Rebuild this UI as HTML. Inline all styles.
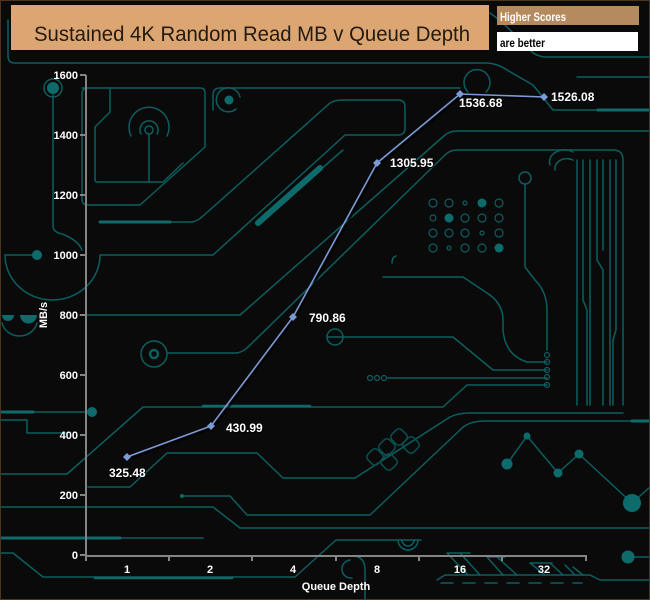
<!DOCTYPE html>
<html><head><meta charset="utf-8"><style>
html,body{margin:0;padding:0;background:#0a0a0a;}
svg{display:block;}
</style></head><body>
<svg width="650" height="600" viewBox="0 0 650 600" xmlns="http://www.w3.org/2000/svg">
<rect x="0" y="0" width="650" height="600" fill="#0a0a0a"/>
<g fill="none" stroke="#0d5e60" stroke-width="1.5" stroke-linecap="round" stroke-linejoin="round">
  <path d="M8,20 V56 Q8,63 15,63 H485 Q497,63 507,70 L533,85 Q545,100 553,110 H650"/>
  <path d="M490,13 Q500,20 510,30 L530,50 Q535,56 545,57 H650"/>
  <path d="M577,77 H650"/>
  <path d="M598,110 H650" stroke-width="3" stroke="#0f6a6b"/>
  <path d="M53,95 V226 Q53,232 62,234 Q78,240 82,250"/>
  <path d="M5,255 A47.5,45 0 0 0 100,255 H213 L345,135 H398 Q405,135 405,128 V107 Q405,100 398,100 H342 Q335,100 330,103 L203,216 Q197,222 190,222 H100"/>
  <path d="M100,222 H170" stroke-width="3" stroke="#0f6a6b"/>
  <path d="M5,255 H32"/>
  <path d="M82,88 H200 Q205,88 205,93 V147 L140,205 H88 Q82,205 82,199 V94 Q82,88 88,88"/>
  <path d="M110,88 V112 L95,127 V180 Q95,182 98,182 H163 L183,163"/>
  <circle cx="149" cy="130" r="4"/>
  <path d="M141,134 A9,9 0 1 1 157,134"/>
  <path d="M131,136 A20,20 0 1 1 167,136"/>
  <path d="M149,135 V182"/>
  <path d="M236,109 A12,12 0 1 1 240,97"/>
  <path d="M213,110 V95 Q213,88 220,88 H460"/>
  <path d="M468,92 A13,13 0 1 1 486,92"/>
  <path d="M80,315 H240 L445,135 Q450,131 457,131 H650"/>
  <path d="M168,353 H235 Q242,353 248,347 L445,155 Q450,150 457,150 H613 Q623,150 623,160 V405"/>
  <path d="M577,160 V405 M583,160 V300 L587,310 V405 M590,160 V405 M597,160 V260 L603,270 V405 M603,160 V250 M610,160 V405 M616,160 V330 L613,340 V405"/>
  <path d="M550,165 A15,12 0 0 1 573,152 M555,170 A12,10 0 0 1 573,160"/>
  <path d="M0,412 H86" />
  <path d="M0,412 H33" stroke-width="3" stroke="#0f6a6b"/>
  <path d="M0,420 H27 V433 H67"/>
  <path d="M0,474 H67 L143,407 H443 L467,385 H547"/>
  <path d="M203,406 H310" stroke-width="2.5" stroke="#0f6a6b"/>
  <path d="M88,487 H130 L167,453 H257 L283,478 H355 L450,417 Q458,413 470,413 H623"/>
  <path d="M0,507 H213 L240,528 H650"/>
  <path d="M0,538 H203"/>
  <path d="M0,538 H120" stroke-width="3" stroke="#0f6a6b"/>
  <path d="M182,496 H230 L247,515 H370 L460,430 Q468,421 485,421 H650"/>
  <path d="M632,421 H650" stroke-width="3" stroke="#0f6a6b"/>
  <path d="M0,553 H13 L43,577 H232 H295 L336,540 H421"/>
  <path d="M95,578 H232" stroke-width="2.5" stroke="#0f6a6b"/>
  <path d="M398,540 A10,10 0 0 0 418,540 M402,540 A6,6 0 0 0 414,540"/>
  <path d="M352,556 Q365,556 365,570 V600"/>
  <path d="M350,560 A8,8 0 1 0 352,578"/>
  <path d="M437,580 L445,575 H590 L600,580 H650"/>
  <path d="M441,583 H582" stroke-dasharray="12,10"/>
  <path d="M447,553 L468,575 M460,553 L480,575 M447,553 H470 M487,557 L503,575 M497,557 L517,575 M487,557 H505 M530,563 L545,575 M550,563 L563,575 M530,563 H552 M565,565 L575,575 M573,567 L583,575"/>
  <path d="M327,337 H453 L493,370 H547"/>
  <path d="M388,378 H547"/>
  <path d="M383,277 H463 L490,295 Q503,305 503,320 V330 Q505,355 527,362 H547"/>
  <path d="M525,184 V267 L535,280 Q547,292 547,310 V350"/>
  <circle cx="525" cy="178" r="6"/>
  <path d="M320,170 L343,150 M392,263 Q392,257 396,256"/>
  <path d="M507,464 L527,436 L558,473 L579,454 L632,503 L650,487"/>
  <path d="M628,557 H650"/>
  <path d="M2,323 A18,17 0 0 0 37,323"/>
  <circle cx="154" cy="354" r="4" stroke-width="2.5"/>
  <circle cx="154" cy="354" r="13"/>
  <circle cx="335" cy="337" r="8"/>
  <g stroke="#0b4f50">
    <rect x="368" y="450" width="14" height="14" rx="4" transform="rotate(45 375 457)"/>
    <rect x="380" y="440" width="14" height="14" rx="4" transform="rotate(45 387 447)"/>
    <rect x="392" y="430" width="14" height="14" rx="4" transform="rotate(45 399 437)"/>
    <rect x="382" y="455" width="14" height="14" rx="4" transform="rotate(45 389 462)"/>
    <rect x="404" y="438" width="14" height="14" rx="4" transform="rotate(45 411 445)"/>
  </g>
  <g stroke-width="1.2">
    <circle cx="433" cy="203" r="4"/><circle cx="449" cy="203" r="4"/><circle cx="465" cy="203" r="2"/><circle cx="499" cy="203" r="4"/>
    <circle cx="433" cy="218" r="3"/><circle cx="465" cy="218" r="4"/><circle cx="482" cy="218" r="4"/><circle cx="499" cy="218" r="4"/>
    <circle cx="433" cy="233" r="4"/><circle cx="449" cy="233" r="4"/><circle cx="465" cy="233" r="4"/><circle cx="482" cy="233" r="2"/><circle cx="499" cy="233" r="4"/>
    <circle cx="433" cy="248" r="4"/><circle cx="449" cy="248" r="2"/><circle cx="465" cy="248" r="4"/><circle cx="482" cy="248" r="4"/>
    <circle cx="547" cy="355" r="2.5"/><circle cx="547" cy="362" r="2.5"/><circle cx="547" cy="370" r="2.5"/><circle cx="547" cy="377" r="2.5"/><circle cx="547" cy="385" r="2.5"/>
    <circle cx="370" cy="378" r="2.5"/><circle cx="377" cy="378" r="2.5"/><circle cx="384" cy="378" r="2.5"/>
  </g>
</g>
<g fill="#0e6b6c">
  <path d="M258,223 L320,168" stroke="#0e6b6c" stroke-width="6" stroke-linecap="round"/>
  <circle cx="53" cy="88" r="6"/>
  <circle cx="37" cy="255" r="5"/>
  <circle cx="229" cy="100" r="4.5"/>
  <circle cx="92" cy="412" r="5"/>
  <circle cx="482" cy="203" r="4.5"/>
  <circle cx="449" cy="218" r="4.5"/>
  <circle cx="499" cy="248" r="4.5"/>
  <circle cx="507" cy="464" r="5.5"/>
  <circle cx="527" cy="436" r="3.5"/>
  <circle cx="558" cy="473" r="4.5"/>
  <circle cx="579" cy="454" r="4.5"/>
  <circle cx="632" cy="503" r="9"/>
  <circle cx="628" cy="557" r="6.5"/>
  <path d="M2,315 A6,6 0 0 0 14,315 Z M20,315 A8,8 0 0 0 37,315 Z"/>
  <circle cx="182" cy="496" r="2"/>
</g>
<circle cx="53" cy="88" r="9" fill="none" stroke="#0d5e60" stroke-width="1.5"/>

<!-- header -->
<rect x="11" y="5" width="478" height="45" fill="#dca673"/>
<text x="34" y="41" font-family="Liberation Sans, sans-serif" font-size="21" fill="#231a12" textLength="436" lengthAdjust="spacingAndGlyphs">Sustained 4K Random Read MB v Queue Depth</text>
<rect x="497" y="6" width="142" height="19" fill="#b68a5f"/>
<text x="500" y="21" font-family="Liberation Sans, sans-serif" font-size="12" font-weight="bold" fill="#ffffff" textLength="66" lengthAdjust="spacingAndGlyphs">Higher Scores</text>
<rect x="497" y="32" width="141" height="19" fill="#ffffff"/>
<text x="500" y="47" font-family="Liberation Sans, sans-serif" font-size="12" font-weight="bold" fill="#000000" textLength="45" lengthAdjust="spacingAndGlyphs">are better</text>

<!-- axes -->
<g stroke="#858585" stroke-width="2" fill="none">
  <path d="M86,75 V556 H586"/>
  <path d="M80,75 H86 M80,135 H86 M80,195 H86 M80,255 H86 M80,315 H86 M80,375 H86 M80,435 H86 M80,495 H86 M80,555 H86"/>
  <path d="M169,555 V561 M252,555 V561 M336,555 V561 M419,555 V561 M502,555 V561 M586,555 V561 M86,555 V561"/>
</g>
<g font-family="Liberation Sans, sans-serif" font-size="11" font-weight="bold" fill="#ffffff">
  <g text-anchor="end">
    <text x="78" y="79">1600</text><text x="78" y="139">1400</text><text x="78" y="199">1200</text>
    <text x="78" y="259">1000</text><text x="78" y="319">800</text><text x="78" y="379">600</text>
    <text x="78" y="439">400</text><text x="78" y="499">200</text><text x="78" y="559">0</text>
  </g>
  <g text-anchor="middle">
    <text x="127" y="573">1</text><text x="210" y="573">2</text><text x="293" y="573">4</text>
    <text x="377" y="573">8</text><text x="460" y="573">16</text><text x="544" y="573">32</text>
    <text x="336" y="590">Queue Depth</text>
  </g>
  <text transform="translate(47,315) rotate(-90)" text-anchor="middle">MB/s</text>
</g>

<!-- data -->
<polyline points="129,459 213,428 295,319 379,165 462,96 546,99" fill="none" stroke="#000" stroke-opacity="0.7" stroke-width="2"/>
<polyline points="127,457 211,426 293,317 377,163 460,94 544,97" fill="none" stroke="#7b9ad6" stroke-width="1.6"/>
<g fill="#7b9ad6">
  <path d="M127,453 L131,457 L127,461 L123,457 Z"/>
  <path d="M211,422 L215,426 L211,430 L207,426 Z"/>
  <path d="M293,313 L297,317 L293,321 L289,317 Z"/>
  <path d="M377,159 L381,163 L377,167 L373,163 Z"/>
  <path d="M460,90 L464,94 L460,98 L456,94 Z"/>
  <path d="M544,93 L548,97 L544,101 L540,97 Z"/>
</g>
<g font-family="Liberation Sans, sans-serif" font-size="12" font-weight="bold">
  <g fill="#000" opacity="0.8" transform="translate(1,1)">
    <text x="109" y="477">325.48</text><text x="226" y="432">430.99</text><text x="309" y="322">790.86</text>
    <text x="390" y="167">1305.95</text><text x="459" y="107">1536.68</text><text x="551" y="101">1526.08</text>
  </g>
  <g fill="#ffffff">
    <text x="109" y="477">325.48</text><text x="226" y="432">430.99</text><text x="309" y="322">790.86</text>
    <text x="390" y="167">1305.95</text><text x="459" y="107">1536.68</text><text x="551" y="101">1526.08</text>
  </g>
</g>
<rect x="0.5" y="0.5" width="649" height="599" fill="none" stroke="#4a3520" stroke-width="1"/>
</svg>
</body></html>
